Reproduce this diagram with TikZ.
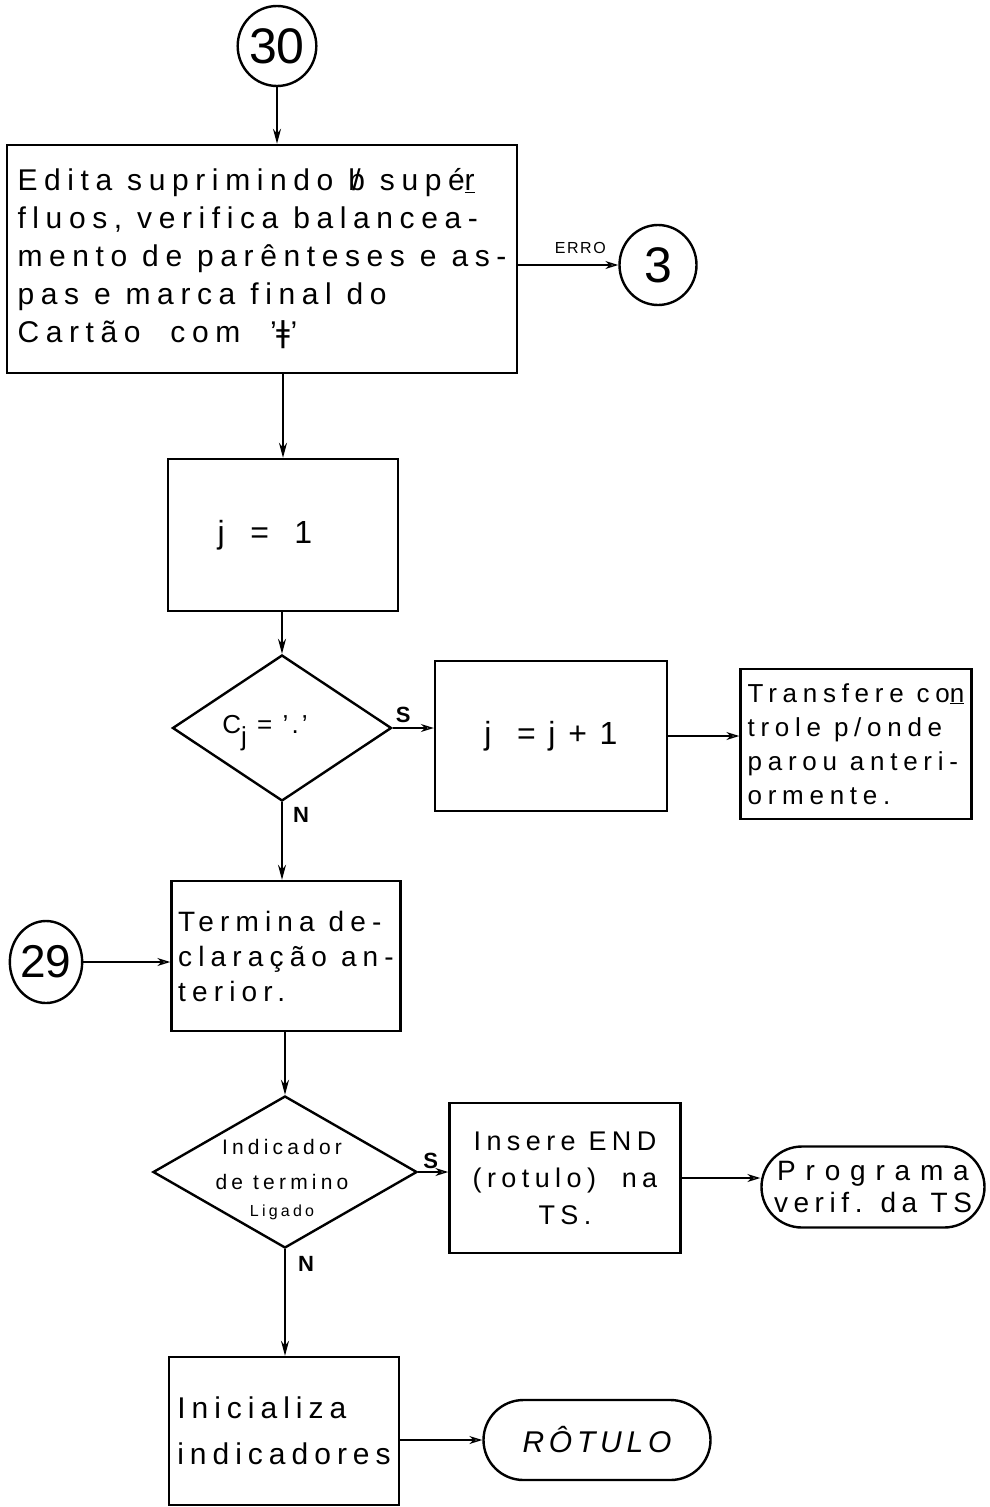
\documentclass[tikz,border=0pt]{standalone}
\usepackage{fontspec}
\setmainfont[LetterSpace=12]{Liberation Sans}
\newfontfamily\plainfont{Liberation Sans}
\newfontfamily\symfont{DejaVu Sans}
\usetikzlibrary{shapes.geometric,shapes.misc,arrows.meta}

% blank symbol: b struck through with a slash
\newcommand{\blanksym}{\ooalign{b\cr\hfil/\hfil}}
% spread the letters of a text like the hand lettering
\newcommand{\spread}[1]{\addfontfeature{LetterSpace=#1}}

\begin{document}
\begin{tikzpicture}[x=1pt,y=-1pt,
  line width=2.4pt,
  stepbox/.style={draw, rectangle, inner sep=0pt},
  decision/.style={draw, diamond, inner sep=0pt},
  connector/.style={draw, ellipse, inner sep=0pt, font=\plainfont\fontsize{50}{50}\selectfont},
  terminal/.style={draw, rounded rectangle, inner sep=0pt},
  arrv/.style={line width=2pt, -{Stealth[length=15pt,width=8pt]}},
  arrh/.style={line width=2pt, -{Stealth[length=13pt,width=8pt,open,line width=1.4pt]}},
  tag/.style={font=\plainfont\bfseries\fontsize{22}{22}\selectfont, inner sep=0pt}
]
\useasboundingbox (0,0) rectangle (989,1507);

% connectors and boxes
\node[connector, minimum width=74pt, minimum height=80pt] (c30) at (277,46) {30};

\node[stepbox, minimum width=510pt, minimum height=228pt, align=left,
      font=\fontsize{30}{38}\selectfont\spread{22}] (b1) at (262,259)
  {Edita suprimindo \blanksym{} supé\underline{r}\\
   fluos, verifica balancea-\\
   mento de parênteses e as-\\
   pas e marca final do\\
   Cartão \ com \ '{\symfont ǂ}'};

\node[connector, minimum width=77pt, minimum height=80pt] (c3) at (658,265) {3};

\node[stepbox, minimum width=230pt, minimum height=152pt,
      font=\fontsize{32}{38}\selectfont] (b2) at (283,535) {j \ = \ 1\hspace*{36pt}};

\node[decision, minimum width=219pt, minimum height=146pt] (d1) at (282,728) {};
\node[font=\fontsize{26}{30}\selectfont, inner sep=0pt] (d1t) at (265,733)
  {C\raisebox{-0.45em}{j} = '.'};

\node[stepbox, minimum width=232pt, minimum height=150pt,
      font=\fontsize{32}{38}\selectfont] (b3) at (551,736) {j \ = j + 1};

\node[stepbox, minimum width=231pt, minimum height=150pt, align=left,
      font=\fontsize{26}{34}\selectfont\spread{22}] (b4) at (856,744)
  {Transfere co\underline{n}\\ trole p/onde\\ parou anteri-\\ ormente.};

\node[stepbox, minimum width=229pt, minimum height=150pt, align=left,
      font=\fontsize{28}{35}\selectfont\spread{22}] (b5) at (286,956)
  {Termina de-\\ claração an-\\ terior.};

\node[connector, minimum width=70pt, minimum height=82pt, font=\plainfont\fontsize{46}{46}\selectfont]
  (c29) at (46,962) {29};

\node[decision, minimum width=264pt, minimum height=152pt] (d2) at (285,1172) {};
\node[align=center, inner sep=0pt, font=\fontsize{21}{35}\selectfont\spread{20}] (d2t) at (282,1180)
  {Indicador\\ de termino\\[-8pt] {\fontsize{16}{16}\selectfont Ligado}};

\node[stepbox, minimum width=231pt, minimum height=150pt, align=center,
      font=\fontsize{27}{37}\selectfont\spread{20}] (b6) at (565,1178)
  {Insere END\\ (rotulo) \ na\\ TS.};

\node[terminal, minimum width=223pt, minimum height=81pt, align=center,
      font=\fontsize{28}{32}\selectfont] (t1) at (873,1187)
  {{\spread{35}Programa}\\ {\spread{20}verif. da TS}};

\node[stepbox, minimum width=230pt, minimum height=148pt, align=left,
      font=\fontsize{30}{46}\selectfont\spread{20}] (b7) at (284,1431)
  {Inicializa\\ indicadores};

\node[terminal, minimum width=227pt, minimum height=80pt,
      font=\itshape\fontsize{30}{32}\selectfont\spread{16}] (t2) at (597,1440) {RÔTULO};

% flow lines
\draw[arrv] (c30) -- (c30 |- b1.north);
\draw[arrh] (b1.east |- c3) -- node[pos=0.62, above=7pt, font=\plainfont\fontsize{16}{16}\selectfont\spread{10}] (erro) {ERRO} (c3.west);
\draw[arrv] (b2 |- b1.south) -- (b2.north);
\draw[arrv] (d1 |- b2.south) -- (d1.north);
\draw[arrh] (d1.east) -- (d1.east -| b3.west);
\node[tag, anchor=south west] (s1) at ([xshift=2pt,yshift=4pt]d1.east) {S};
\draw[arrh] (b3.east) -- (b3.east -| b4.west);
\draw[arrv] (d1.south) -- (d1.south |- b5.north);
\node[tag, anchor=north west] (n1) at ([xshift=10pt,yshift=-4pt]d1.south) {N};
\draw[arrh] (c29) -- (c29 -| b5.west);
\draw[arrv] (d2 |- b5.south) -- (d2.north);
\draw[arrh] (d2.east) -- (d2.east -| b6.west);
\node[tag, anchor=south west] (s2) at ([xshift=4pt,yshift=2pt]d2.east) {S};
\draw[arrh] (b6.east) -- (b6.east -| t1.west);
\draw[arrv] (d2.south) -- (d2.south |- b7.north);
\node[tag, anchor=north west] (n2) at ([xshift=12pt,yshift=-6pt]d2.south) {N};
\draw[arrh] (t2.west -| b7.east) -- (t2.west);
\end{tikzpicture}
\end{document}
